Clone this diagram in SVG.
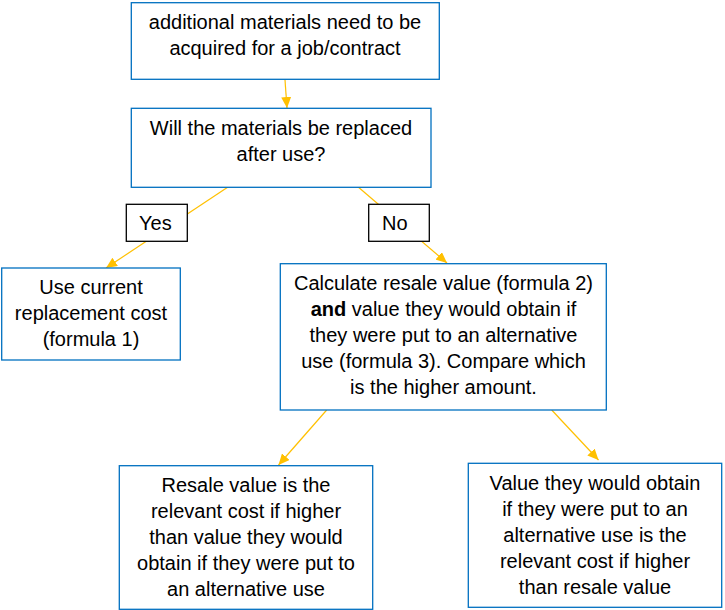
<svg xmlns="http://www.w3.org/2000/svg" width="725" height="610" viewBox="0 0 725 610">
<style>
.box{fill:#fff;stroke:#0070C0;stroke-width:1.3}
.lbl{fill:#fff;stroke:#000;stroke-width:1.3}
text{font-family:"Liberation Sans",Arial,sans-serif;font-size:20px;fill:#000}
.c{text-anchor:middle}
.conn{stroke:#FFC000;stroke-width:1.2;fill:none;marker-end:url(#ah)}
</style>
<defs>
<marker id="ah" markerUnits="userSpaceOnUse" markerWidth="11" markerHeight="10" refX="11" refY="5" orient="auto">
<path d="M0,0 L11,5 L0,10 z" fill="#FFC000"/>
</marker>
</defs>
<rect width="725" height="610" fill="#fff"/>
<g id="connectors">
<line class="conn" x1="285" y1="80" x2="287" y2="108"/>
<line class="conn" x1="228" y1="187" x2="106" y2="268"/>
<line class="conn" x1="357" y1="186" x2="447" y2="263"/>
<line class="conn" x1="326.7" y1="410" x2="278.5" y2="465"/>
<line class="conn" x1="551.7" y1="410" x2="598.5" y2="460"/>
</g>
<g id="start">
<rect class="box" x="131.3" y="2.7" width="308" height="76.6"/>
<text class="c" x="285" y="28.5">additional materials need to be</text>
<text class="c" x="285" y="54.5">acquired for a job/contract</text>
</g>
<g id="question">
<rect class="box" x="131.3" y="108.3" width="299.7" height="79"/>
<text class="c" x="281" y="134.5">Will the materials be replaced</text>
<text class="c" x="281" y="160.5">after use?</text>
</g>
<g id="yes">
<rect class="lbl" x="126.3" y="204.3" width="61" height="37"/>
<text x="139" y="230">Yes</text>
</g>
<g id="no">
<rect class="lbl" x="368.7" y="204.3" width="60.6" height="37"/>
<text x="382" y="230">No</text>
</g>
<g id="replacement">
<rect class="box" x="1.7" y="268" width="178.6" height="92"/>
<text class="c" x="91" y="294">Use current</text>
<text class="c" x="91" y="320">replacement cost</text>
<text class="c" x="91" y="346">(formula 1)</text>
</g>
<g id="calculate">
<rect class="box" x="280.3" y="263.7" width="326" height="146.3"/>
<text class="c" x="443.5" y="289.5">Calculate resale value (formula 2)</text>
<text class="c" x="443.5" y="315.5"><tspan font-weight="bold">and</tspan> value they would obtain if</text>
<text class="c" x="443.5" y="341.5">they were put to an alternative</text>
<text class="c" x="443.5" y="367.5">use (formula 3). Compare which</text>
<text class="c" x="443.5" y="393.5">is the higher amount.</text>
</g>
<g id="resale">
<rect class="box" x="119.3" y="465.7" width="253.4" height="143.6"/>
<text class="c" x="246" y="491.5">Resale value is the</text>
<text class="c" x="246" y="517.5">relevant cost if higher</text>
<text class="c" x="246" y="543.5">than value they would</text>
<text class="c" x="246" y="569.5">obtain if they were put to</text>
<text class="c" x="246" y="595.5">an alternative use</text>
</g>
<g id="alternative">
<rect class="box" x="468.3" y="463.3" width="253.4" height="144"/>
<text class="c" x="595" y="490">Value they would obtain</text>
<text class="c" x="595" y="516">if they were put to an</text>
<text class="c" x="595" y="542">alternative use is the</text>
<text class="c" x="595" y="568">relevant cost if higher</text>
<text class="c" x="595" y="594">than resale value</text>
</g>
</svg>
